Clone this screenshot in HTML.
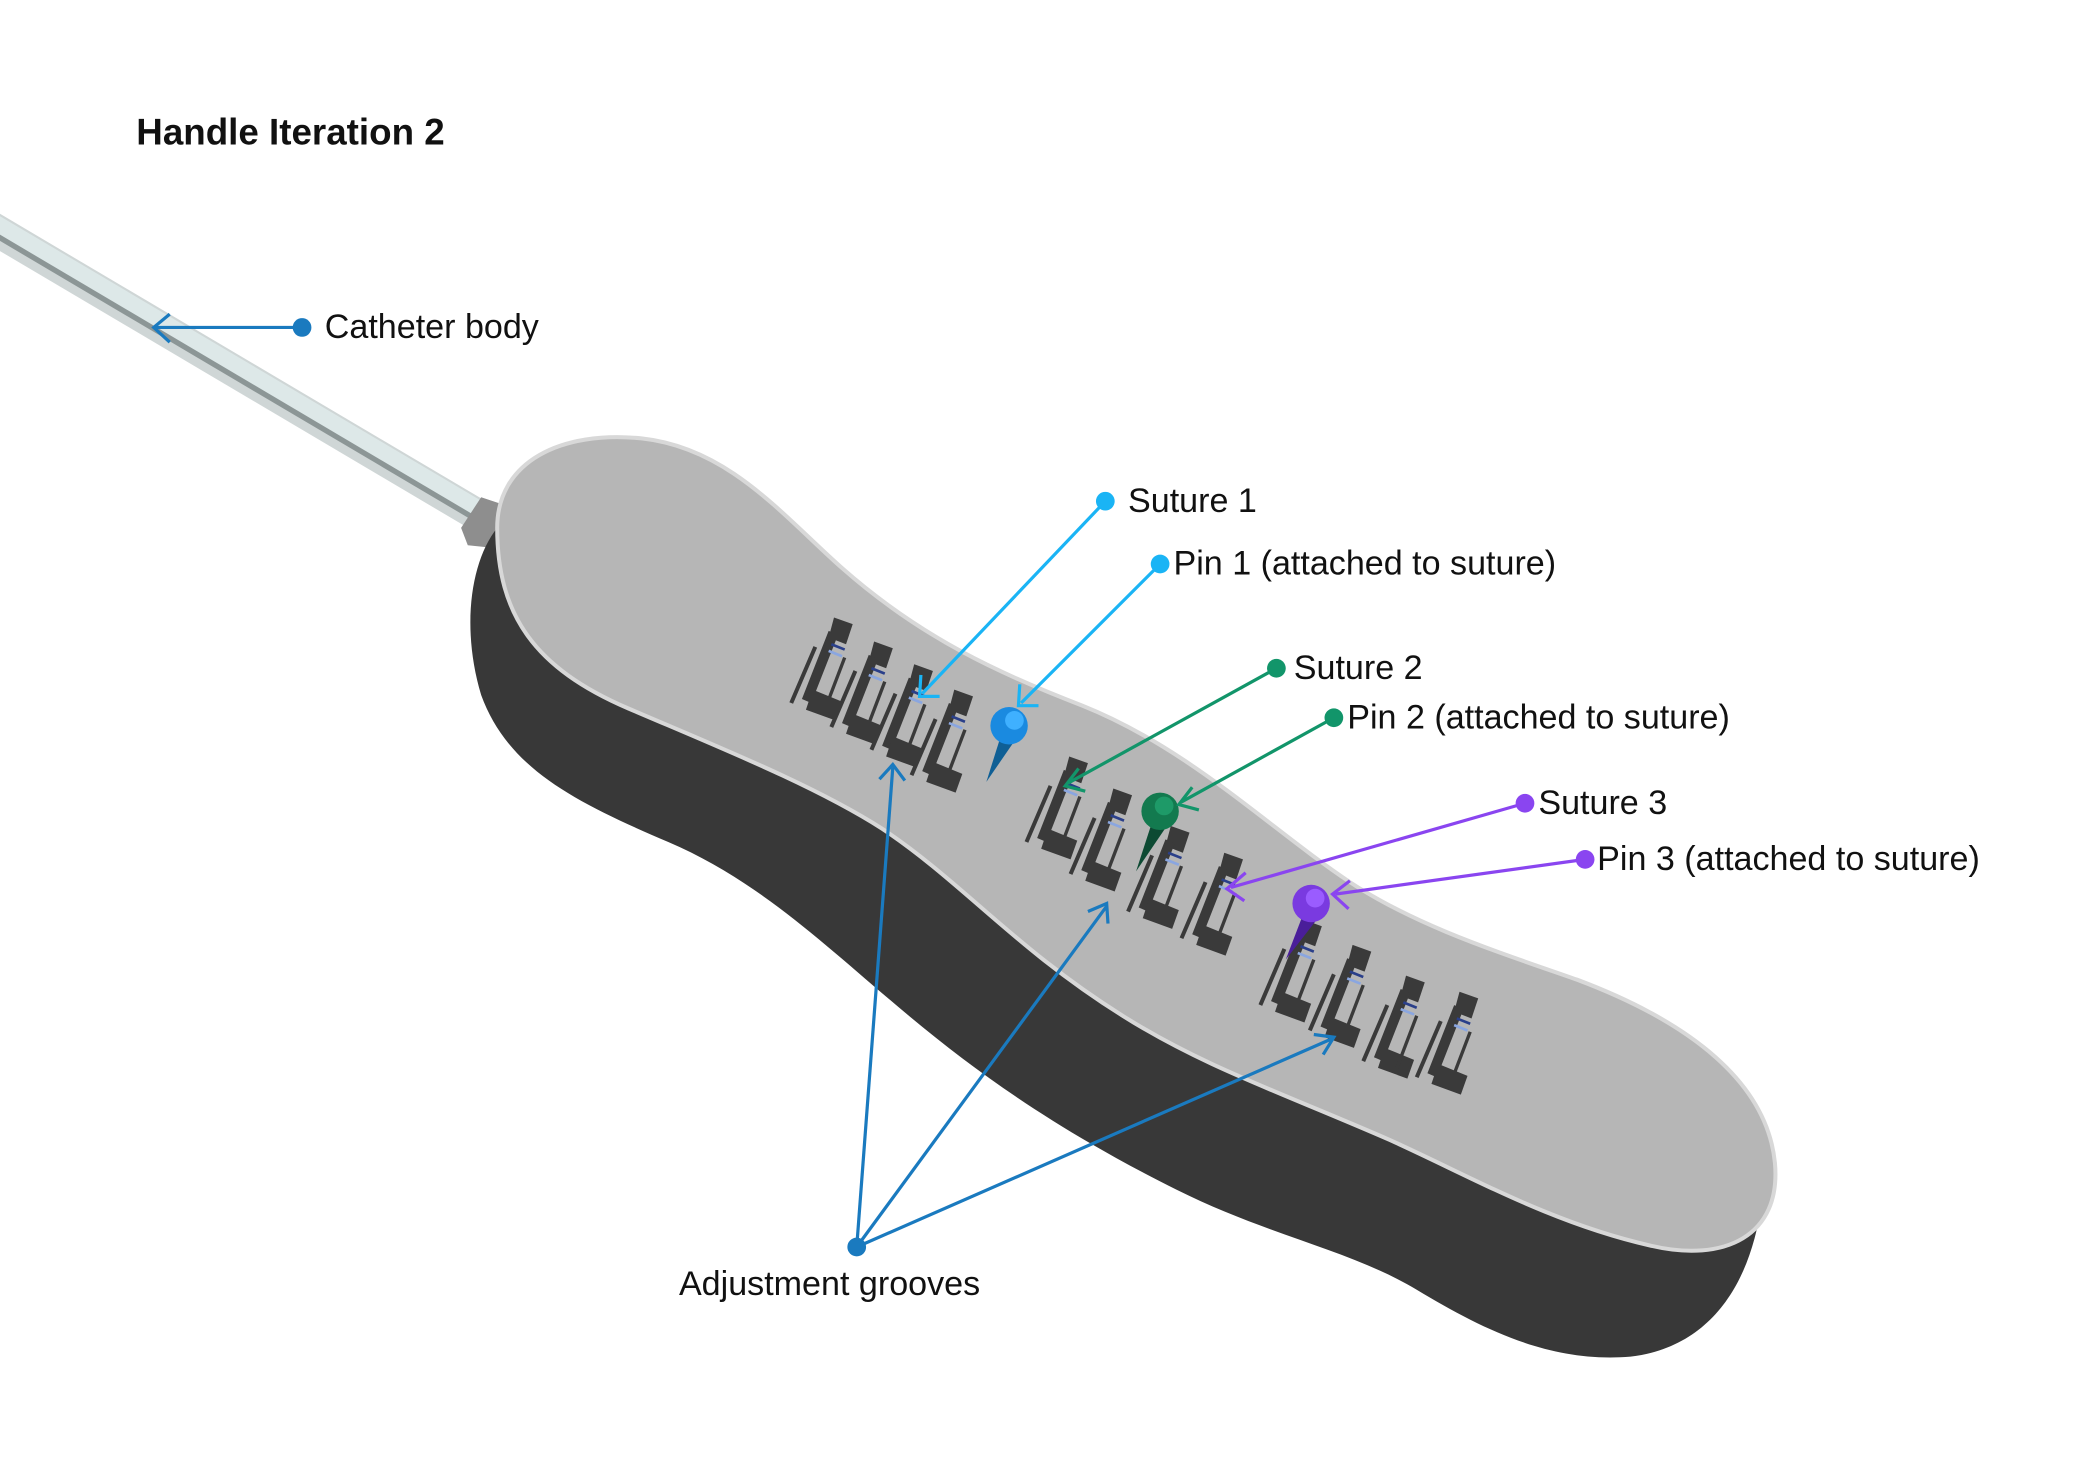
<!DOCTYPE html>
<html><head><meta charset="utf-8"><style>
html,body{margin:0;padding:0;background:#fff;}
svg{display:block;}
text{font-family:"Liberation Sans",sans-serif;fill:#111;}
</style></head><body>
<svg width="2085" height="1471" viewBox="0 0 1560 1100.6" preserveAspectRatio="none" xmlns="http://www.w3.org/2000/svg">
<defs>
<g id="hook">
<polygon points="28,0 42,5 37,20 24,15" fill="#3a3a3a"/>
<polygon points="24,10 31,13 11,64 4,61" fill="#3a3a3a"/>
<polygon points="12,54 34,63 29,77 7,69" fill="#3a3a3a"/>
<line x1="14" y1="22" x2="-4" y2="64" stroke="#3a3a3a" stroke-width="3"/>
<line x1="36" y1="30" x2="20" y2="72" stroke="#3a3a3a" stroke-width="2.5"/>
<line x1="26" y1="20" x2="36" y2="24" stroke="#2a3f8a" stroke-width="2"/>
<line x1="24" y1="25" x2="34" y2="29" stroke="#8aa6e0" stroke-width="2"/>
</g>
</defs>
<!-- catheter -->
<line x1="-10" y1="168" x2="362" y2="388" stroke="#cfd6d6" stroke-width="24"/>
<line x1="-10" y1="164" x2="362" y2="384" stroke="#dde8e8" stroke-width="14"/>
<line x1="-10" y1="172" x2="362" y2="392" stroke="#8c9696" stroke-width="4"/>
<polygon points="345,395 360,372 378,378 370,410 350,408" fill="#8e8e8e"/>
<!-- dark side -->
<path d="M372,395 C352,420 345,470 360,520 C380,575 430,600 500,630 C570,660 620,710 680,760 C740,810 800,850 880,890 C950,925 1010,935 1060,965 C1110,995 1160,1020 1220,1015 C1280,1008 1310,960 1318,900 L1325,860 L1250,800 L700,560 Z" fill="#383838"/>
<!-- top face -->
<path d="M372,395 C372,345 420,322 480,328 C545,335 585,385 630,425 C690,478 750,505 810,528 C890,560 950,620 1010,660 C1060,693 1120,712 1180,733 C1265,765 1322,810 1328,870 C1333,925 1290,945 1235,932 C1160,915 1100,880 1040,853 C960,818 900,798 840,760 C760,710 720,660 660,620 C610,588 540,560 470,530 C400,500 372,460 372,395 Z" fill="#b6b6b6" stroke="#d8d8d8" stroke-width="3"/>
<!-- grooves -->
<use href="#hook" x="596" y="462"/><use href="#hook" x="626" y="480"/><use href="#hook" x="656" y="497"/><use href="#hook" x="686" y="516"/>
<use href="#hook" x="772" y="566"/><use href="#hook" x="805" y="590"/><use href="#hook" x="848" y="618"/><use href="#hook" x="888" y="638"/>
<use href="#hook" x="947" y="688"/><use href="#hook" x="984" y="707"/><use href="#hook" x="1024" y="730"/><use href="#hook" x="1064" y="742"/>
<!-- pins -->
<polygon points="749,550 760,553 738,585" fill="#0f5f95"/>
<circle cx="755" cy="543" r="14" fill="#1a8ae0"/><circle cx="759" cy="539" r="7" fill="#3fb0ff"/>
<polygon points="862,615 873,618 850,652" fill="#0d4a33"/>
<circle cx="868" cy="607" r="14" fill="#137a4f"/><circle cx="871" cy="603" r="7" fill="#1e9a68"/>
<polygon points="975,684 986,687 962,718" fill="#4a1e9a"/>
<circle cx="981" cy="676" r="14" fill="#7a3ae0"/><circle cx="984" cy="672" r="7" fill="#9a5cff"/>
<!-- connectors -->
<g fill="none" stroke-width="2.4">
<g stroke="#1a7abf">
<line x1="226" y1="245" x2="115" y2="245"/><polyline points="127,235 115,245 127,256"/>
<line x1="641" y1="933" x2="668" y2="574"/><polyline points="658,583 668,572 677,584"/>
<line x1="641" y1="933" x2="828" y2="678"/><polyline points="814,682 828,676 829,691"/>
<line x1="641" y1="933" x2="997" y2="777"/><polyline points="983,774 998,776 990,789"/>
</g>
<g stroke="#1ab4f5">
<line x1="827" y1="375" x2="690" y2="519"/><polyline points="689,505 688,521 703,521"/>
<line x1="868" y1="422" x2="764" y2="526"/><polyline points="763,512 762,528 777,528"/>
</g>
<g stroke="#12956a">
<line x1="955" y1="500" x2="799" y2="586"/><polyline points="807,575 797,588 812,592"/>
<line x1="998" y1="537" x2="884" y2="600"/><polyline points="892,589 882,602 897,606"/>
</g>
<g stroke="#8a45f0">
<line x1="1141" y1="601" x2="921" y2="664"/><polyline points="932,653 918,665 931,674"/>
<line x1="1186" y1="643" x2="999" y2="669"/><polyline points="1010,659 997,669 1009,680"/>
</g>
</g>
<circle cx="226" cy="245" r="7" fill="#1a7abf"/>
<circle cx="641" cy="933" r="7" fill="#1a7abf"/>
<circle cx="827" cy="375" r="7" fill="#1ab4f5"/>
<circle cx="868" cy="422" r="7" fill="#1ab4f5"/>
<circle cx="955" cy="500" r="7" fill="#12956a"/>
<circle cx="998" cy="537" r="7" fill="#12956a"/>
<circle cx="1141" cy="601" r="7" fill="#8a45f0"/>
<circle cx="1186" cy="643" r="7" fill="#8a45f0"/>
<!-- labels -->
<text x="102" y="108" font-size="27.5" font-weight="bold">Handle Iteration 2</text>
<text x="243" y="253" font-size="25.5">Catheter body</text>
<text x="844" y="383" font-size="25.5">Suture 1</text>
<text x="878" y="430" font-size="25.5">Pin 1 (attached to suture)</text>
<text x="968" y="508" font-size="25.5">Suture 2</text>
<text x="1008" y="545" font-size="25.5">Pin 2 (attached to suture)</text>
<text x="1151" y="609" font-size="25.5">Suture 3</text>
<text x="1195" y="651" font-size="25.5">Pin 3 (attached to suture)</text>
<text x="508" y="969" font-size="25.5">Adjustment grooves</text>
</svg>
</body></html>
